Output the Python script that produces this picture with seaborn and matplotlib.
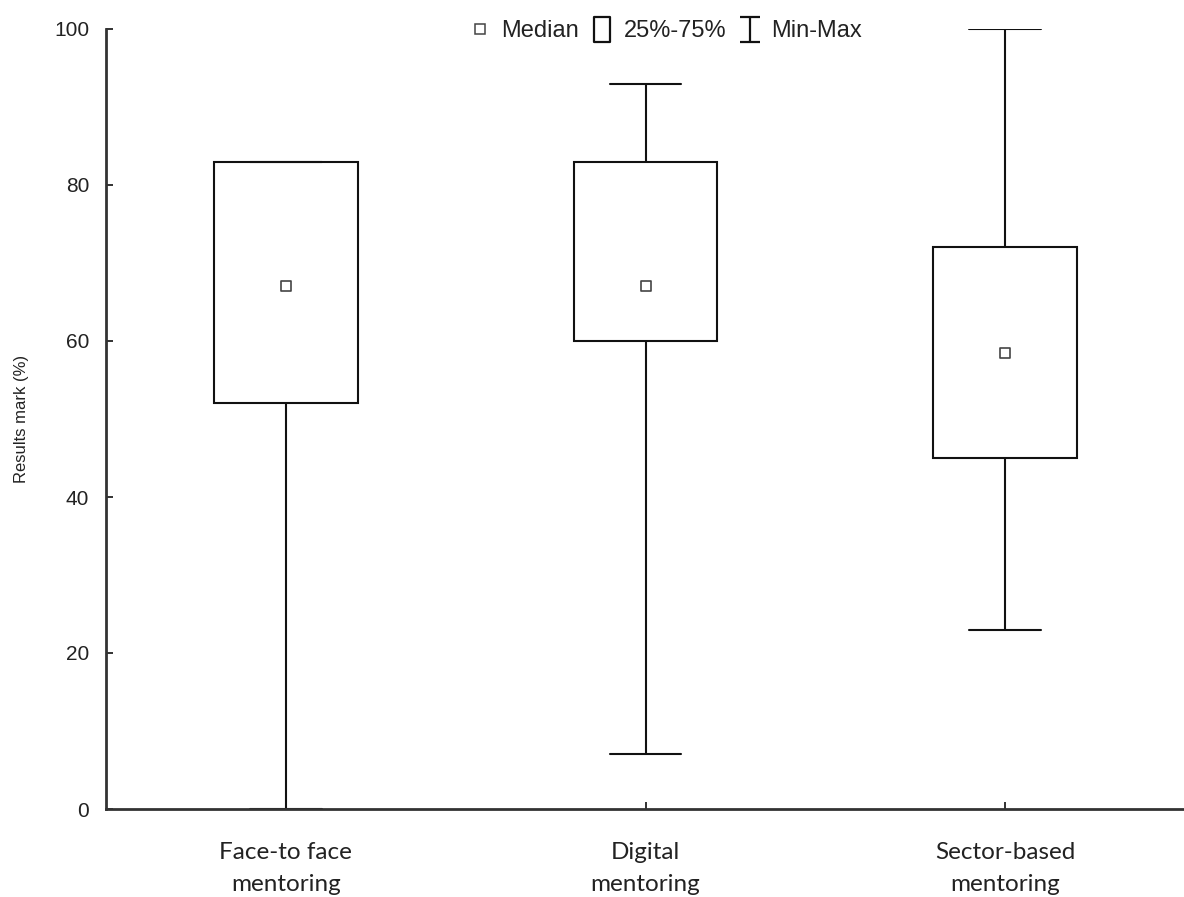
import matplotlib
matplotlib.use("Agg")
import matplotlib.pyplot as plt
import pandas as pd
import seaborn as sns
from matplotlib.font_manager import FontProperties
from matplotlib.lines import Line2D
from matplotlib.path import Path

# Summary statistics per mentoring type (results mark, %)
categories = ["Face-to face\nmentoring", "Digital\nmentoring", "Sector-based\nmentoring"]
minimum = [0, 7, 23]
lower_quartile = [52, 60, 45]
median = [67, 67, 58.5]
upper_quartile = [83, 83, 72]
maximum = [83, 93, 100]
y_ticks = [0, 20, 40, 60, 80, 100]

# Five-number summaries as long-form rows; with whis=(0, 100) the whiskers reach min/max
rows = []
for cat, stats in zip(categories, zip(minimum, lower_quartile, median, upper_quartile, maximum)):
    for v in stats:
        rows.append({"group": cat, "score": v})
df = pd.DataFrame(rows)

sns.set_theme(style="ticks")
plt.rcParams["font.family"] = ["Liberation Sans", "DejaVu Sans"]

fig = plt.figure(figsize=(11.84, 8.97), dpi=100)
ax = fig.add_axes([106 / 1184, 1 - 809 / 897, (1185 - 106) / 1184, (809 - 29) / 897])

sns.boxplot(
    data=df, x="group", y="score", order=categories, whis=(0, 100), width=0.4,
    color="white", linecolor="#111111", linewidth=1.5, showfliers=False,
    medianprops={"visible": False}, ax=ax,
)
sns.stripplot(
    x=categories, y=median, order=categories, jitter=False, marker="s",
    color="white", edgecolor="#444444", linewidth=1.2, size=7.5, zorder=5, ax=ax,
)

ax.set_xlim(-0.5, 2.5)
ax.set_ylim(0, 100)
ax.set_yticks(y_ticks)
ax.set_yticklabels([str(t) for t in y_ticks],
                   fontproperties=FontProperties(family="Liberation Sans", size=15),
                   color="#222222")
ax.set_xticks(range(len(categories)))
ax.set_xticklabels(categories,
                   fontproperties=FontProperties(family="Lato", size=17.5),
                   linespacing=1.65, color="#222222")
ax.set_xlabel("")
ax.set_ylabel("Results mark (%)",
              fontproperties=FontProperties(family="Liberation Sans", size=12),
              color="#222222", labelpad=18)

ax.tick_params(axis="y", direction="in", length=5, width=1.3, pad=12, colors="#222222")
ax.tick_params(axis="x", direction="in", length=5, width=1.3, pad=24, colors="#222222")
sns.despine(ax=ax)
for side in ("left", "bottom"):
    ax.spines[side].set_linewidth(2)
    ax.spines[side].set_color("#333333")

# Legend glyphs: small square, tall box, I-beam
box_path = Path(
    [(-0.32, -0.5), (0.32, -0.5), (0.32, 0.5), (-0.32, 0.5), (-0.32, -0.5)],
    [Path.MOVETO, Path.LINETO, Path.LINETO, Path.LINETO, Path.CLOSEPOLY],
)
ibeam_path = Path(
    [(-0.4, 0.5), (0.4, 0.5), (0, 0.5), (0, -0.5), (-0.4, -0.5), (0.4, -0.5)],
    [Path.MOVETO, Path.LINETO, Path.MOVETO, Path.LINETO, Path.MOVETO, Path.LINETO],
)
handles = [
    Line2D([], [], ls="none", marker="s", markersize=7, mfc="white", mec="#444444", mew=1.1),
    Line2D([], [], ls="none", marker=box_path, markersize=18, mfc="white", mec="#111111", mew=1.6),
    Line2D([], [], ls="none", marker=ibeam_path, markersize=18, mfc="none", mec="#111111", mew=1.6),
]
fig.legend(
    handles, ["Median", "25%-75%", "Min-Max"], loc="center",
    bbox_to_anchor=(665 / 1184, 1 - 31 / 897), ncol=3, frameon=False,
    prop=FontProperties(family="Liberation Sans", size=17),
    handlelength=1.0, handletextpad=0.4, columnspacing=0.5,
    labelcolor="#222222",
)

fig.savefig("out.png", dpi=100, facecolor="white")
